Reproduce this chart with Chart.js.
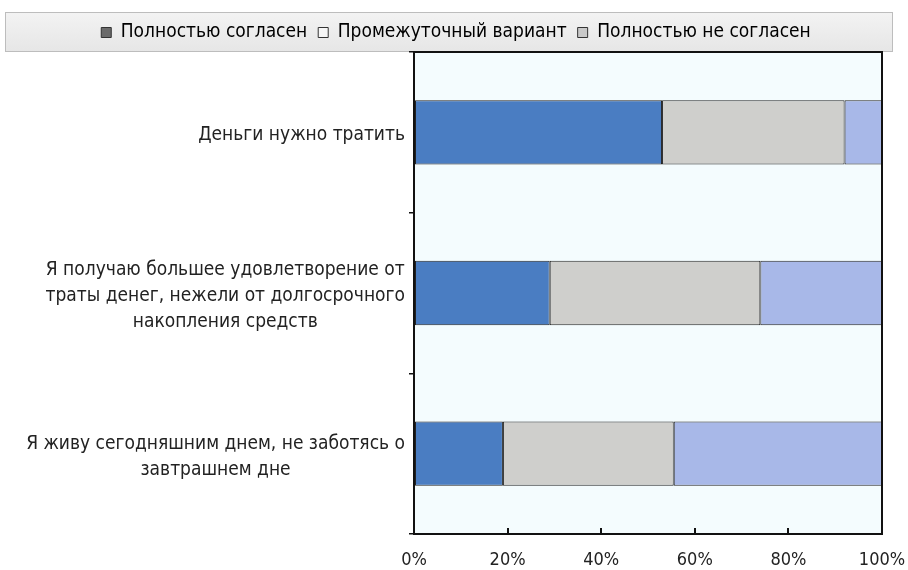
<!DOCTYPE html>
<html>
<head>
<meta charset="utf-8">
<script src="https://cdn.jsdelivr.net/npm/chart.js@4/dist/chart.umd.min.js"></script>
<style>
  html, body { margin: 0; padding: 0; background: #fff; }
  #chart { display: block; }
</style>
</head>
<body>
<canvas id="chart" width="908" height="570"></canvas>
<script>
const statements = [
    ['Деньги нужно тратить'],
    ['Я получаю большее удовлетворение от', 'траты денег, нежели от долгосрочного', 'накопления средств'],
    ['Я живу сегодняшним днем, не заботясь о', 'завтрашнем дне']
];
const seriesNames = ['Полностью согласен', 'Промежуточный вариант', 'Полностью не согласен'];
const fullyAgree = [53, 29, 19];
const inBetween = [39, 45, 36.5];
const fullyDisagree = [8, 26, 44.5];
const xTicks = [0, 20, 40, 60, 80, 100];

const FONT = "'Liberation Sans Narrow', 'DejaVu Sans Condensed', 'Arial Narrow', sans-serif";
const barColors = ['#4a7dc2', '#cfcfcc', '#a8b8e8'];
const legendSwatches = ['#6b6b6b', '#f6f6f6', '#c9c9c9'];

// legend strip background + plot area fill and frame
const framePlugin = {
    id: 'frame',
    beforeDraw(chart) {
        const ctx = chart.ctx;
        const a = chart.chartArea;
        ctx.save();
        const g = ctx.createLinearGradient(0, 12, 0, 52);
        g.addColorStop(0, '#f3f3f3');
        g.addColorStop(1, '#e6e6e6');
        ctx.fillStyle = g;
        ctx.fillRect(5, 12, 888, 40);
        ctx.strokeStyle = '#bdbdbd';
        ctx.lineWidth = 1;
        ctx.strokeRect(5.5, 12.5, 887, 39);
        ctx.fillStyle = '#f4fcfe';
        ctx.fillRect(a.left, a.top, a.right - a.left, a.bottom - a.top);
        ctx.restore();
    },
    afterDraw(chart) {
        const ctx = chart.ctx;
        const a = chart.chartArea;
        ctx.save();
        ctx.strokeStyle = '#111';
        ctx.lineWidth = 2;
        ctx.strokeRect(a.left, a.top, a.right - a.left, a.bottom - a.top);
        ctx.restore();
    }
};

// category labels: each block sits against the axis, its lines centred inside the block
const categoryLabels = {
    id: 'categoryLabels',
    afterDraw(chart) {
        const ctx = chart.ctx;
        const scale = chart.scales.y;
        const right = chart.chartArea.left - 9;
        const lineH = 26;
        ctx.save();
        ctx.font = '19px ' + FONT;
        ctx.fillStyle = '#222';
        ctx.textAlign = 'center';
        ctx.textBaseline = 'middle';
        chart.data.labels.forEach((lines, i) => {
            const w = Math.max(...lines.map(l => ctx.measureText(l).width));
            const cx = right - w / 2;
            const cy = scale.getPixelForTick(i) + 3;
            lines.forEach((l, k) => {
                ctx.fillText(l, cx, cy + (k - (lines.length - 1) / 2) * lineH);
            });
        });
        ctx.restore();
    }
};

const datasets = [fullyAgree, inBetween, fullyDisagree].map((vals, i) => ({
    label: seriesNames[i],
    data: vals,
    backgroundColor: barColors[i],
    borderColor: '#222',
    borderWidth: 1,
    borderSkipped: false,
    categoryPercentage: 1,
    barPercentage: 0.4
}));

new Chart(document.getElementById('chart'), {
    type: 'bar',
    data: { labels: statements, datasets: datasets },
    plugins: [framePlugin, categoryLabels],
    options: {
        indexAxis: 'y',
        responsive: false,
        animation: false,
        layout: { padding: { top: 12, left: 8, right: 4, bottom: 0 } },
        plugins: {
            tooltip: { enabled: false },
            legend: {
                position: 'top',
                labels: {
                    font: { family: FONT, size: 19 },
                    color: '#222',
                    boxWidth: 10,
                    boxHeight: 10,
                    padding: 11,
                    generateLabels(chart) {
                        return chart.data.datasets.map((ds, i) => ({
                            text: ds.label,
                            fillStyle: legendSwatches[i],
                            strokeStyle: '#333',
                            lineWidth: 1,
                            datasetIndex: i
                        }));
                    }
                }
            }
        },
        scales: {
            x: {
                stacked: true,
                min: 0,
                max: 100,
                afterBuildTicks(scale) { scale.ticks = xTicks.map(v => ({ value: v })); },
                afterFit(scale) { scale.height = 36; scale.paddingRight = 26; },
                grid: { drawOnChartArea: false, tickLength: -6, color: '#111', lineWidth: 2 },
                border: { color: '#111', width: 2 },
                ticks: {
                    padding: 22,
                    color: '#222',
                    font: { family: FONT, size: 18 },
                    callback: v => v + '%'
                }
            },
            y: {
                stacked: true,
                afterFit(scale) { scale.width = 406; },
                grid: { drawOnChartArea: false, tickLength: 5, color: '#111', lineWidth: 1.5 },
                border: { color: '#111', width: 2 },
                ticks: { display: false }
            }
        }
    }
});
</script>
</body>
</html>
